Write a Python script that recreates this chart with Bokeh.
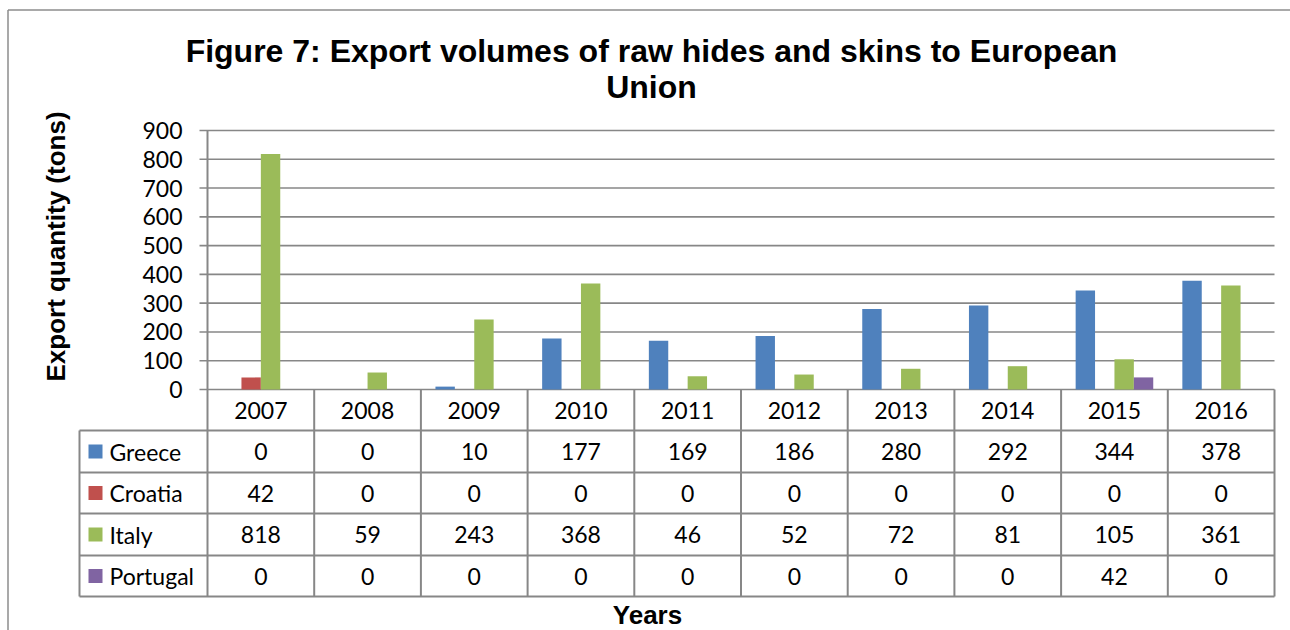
import math
from bokeh.plotting import figure
from bokeh.models import Range1d
from bokeh.embed import file_html
from bokeh.resources import INLINE
from bokeh.core.properties import value

# ---------------- data ----------------
years = ["2007", "2008", "2009", "2010", "2011", "2012", "2013", "2014", "2015", "2016"]
countries = ["Greece", "Croatia", "Italy", "Portugal"]
greece = [0, 0, 10, 177, 169, 186, 280, 292, 344, 378]
croatia = [42, 0, 0, 0, 0, 0, 0, 0, 0, 0]
italy = [818, 59, 243, 368, 46, 52, 72, 81, 105, 361]
portugal = [0, 0, 0, 0, 0, 0, 0, 0, 42, 0]
series = [greece, croatia, italy, portugal]
colors = ["#4F81BD", "#C0504D", "#9BBB59", "#8064A2"]
y_ticks = [0, 100, 200, 300, 400, 500, 600, 700, 800, 900]
title_lines = ["Figure 7: Export volumes of raw hides and skins to European", "Union"]
y_title = "Export quantity (tons)"
x_title = "Years"

# ---------------- layout (pixels) ----------------
W, H = 1290, 630
PX_L, PX_R = 207, 1274
PX_T, PX_B = 130, 389
YMAX = y_ticks[-1]
ncat = len(years)
cw = (PX_R - PX_L) / ncat
row_edges = [389, 430, 472, 513, 555, 596]
LEG_L = 79
GRID = "#878787"
BODY_FONT = value("Lato")
BODY_SIZE = value("23px")


def X(px):
    return (px - PX_L) / cw


def Y(py):
    return (PX_B - py) * YMAX / (PX_B - PX_T)


p = figure(width=W, height=H, x_range=Range1d(X(0), X(W)), y_range=Range1d(Y(H), Y(0)),
           output_backend="svg", toolbar_location=None, min_border=0,
           x_axis_location=None, y_axis_location=None)
p.grid.visible = False
p.outline_line_color = None
p.background_fill_color = "white"
p.border_fill_color = "white"

# outer chart border
p.segment(x0=[X(7.5), X(7.5)], y0=[Y(9.5), Y(9.5)], x1=[X(7.5), X(W)], y1=[Y(H), Y(9.5)],
          line_color="#8C8C8C", line_width=1.5)

# gridlines + ticks
p.segment(x0=[X(199)] * len(y_ticks), y0=y_ticks, x1=[ncat] * len(y_ticks), y1=y_ticks,
          line_color=GRID, line_width=1.6)

# bars
bw = 1 / (len(series) + 1.5)
for k, (vals, col) in enumerate(zip(series, colors)):
    xs = [i + 0.5 + (k - (len(series) - 1) / 2) * bw for i in range(ncat)]
    p.vbar(x=xs, top=vals, bottom=0, width=bw, fill_color=col, line_color=None)

# y tick labels
p.text(x=[X(182)] * len(y_ticks), y=y_ticks, text=[str(t) for t in y_ticks],
       text_align="right", text_baseline="middle", text_font=BODY_FONT,
       text_font_size=BODY_SIZE, text_color="black")

# table lines
ybot = Y(row_edges[-1])
p.segment(x0=list(range(ncat + 1)), y0=[YMAX] * 1 + [0] * ncat, x1=list(range(ncat + 1)),
          y1=[ybot] * (ncat + 1), line_color=GRID, line_width=2)
p.segment(x0=[X(LEG_L)], y0=[Y(row_edges[1])], x1=[X(LEG_L)], y1=[ybot],
          line_color=GRID, line_width=2)
p.segment(x0=[X(LEG_L)] * (len(row_edges) - 1), y0=[Y(e) for e in row_edges[1:]],
          x1=[ncat] * (len(row_edges) - 1), y1=[Y(e) for e in row_edges[1:]],
          line_color=GRID, line_width=2)

# header (years)
hc = (row_edges[0] + row_edges[1]) / 2
p.text(x=[i + 0.5 for i in range(ncat)], y=[Y(hc)] * ncat, text=years,
       text_align="center", text_baseline="middle", text_font=BODY_FONT,
       text_font_size=BODY_SIZE, text_color="black")

# data rows
for r, (name, vals, col) in enumerate(zip(countries, series, colors)):
    rc = (row_edges[r + 1] + row_edges[r + 2]) / 2
    p.text(x=[i + 0.5 for i in range(ncat)], y=[Y(rc)] * ncat, text=[str(v) for v in vals],
           text_align="center", text_baseline="middle", text_font=BODY_FONT,
           text_font_size=BODY_SIZE, text_color="black")
    p.quad(left=[X(88)], right=[X(102)], top=[Y(rc - 7)], bottom=[Y(rc + 7)],
           fill_color=col, line_color=None)
    p.text(x=[X(109)], y=[Y(rc)], text=[name], text_align="left", text_baseline="middle",
           text_font=BODY_FONT, text_font_size=BODY_SIZE, text_color="black")

# titles
TFONT = value("Liberation Sans")
p.text(x=[X(651), X(651)], y=[Y(50), Y(86)], text=title_lines, text_align="center",
       text_baseline="middle", text_font=TFONT, text_font_style="bold",
       text_font_size=value("32px"), text_color="black")
p.text(x=[X(55)], y=[Y(246)], text=[y_title], angle=math.pi / 2, text_align="center",
       text_baseline="middle", text_font=TFONT, text_font_style="bold",
       text_font_size=value("26px"), text_color="black")
p.text(x=[X(647)], y=[Y(614)], text=[x_title], text_align="center",
       text_baseline="middle", text_font=TFONT, text_font_style="bold",
       text_font_size=value("26px"), text_color="black")

open("out.html", "w").write(file_html(p, INLINE))
